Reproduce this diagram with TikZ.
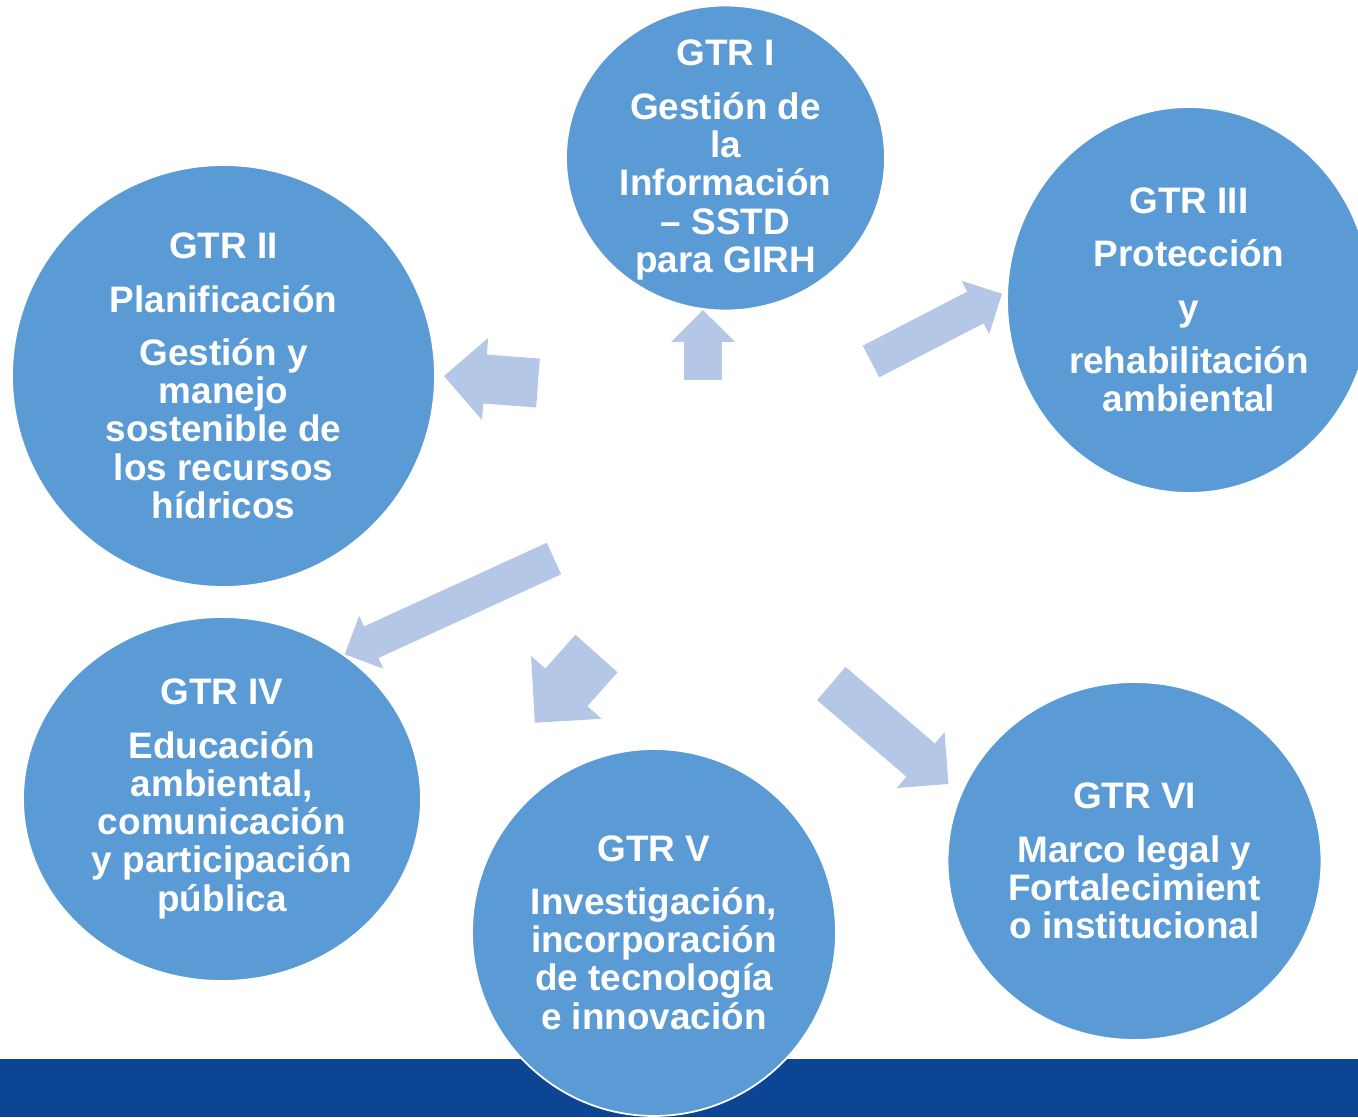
\documentclass[tikz,border=0pt]{standalone}
\usepackage{fontspec}
\setmainfont{Liberation Sans}
\usetikzlibrary{shapes.geometric,arrows.meta}
\definecolor{gtrblue}{HTML}{5B9BD5}
\definecolor{flowblue}{HTML}{B4C7E7}
\definecolor{bandblue}{HTML}{0B4594}
\tikzset{
  gtr/.style={ellipse, fill=gtrblue, draw=white, line width=1pt, inner sep=0pt},
  gtrtext/.style={text=white, align=center, inner sep=0pt,
    font=\bfseries\fontsize{21pt}{21.8pt}\selectfont},
  flow/.style={draw=flowblue, line width=#1,
    -{Triangle[width=0pt 1.67, length=0pt 0.84, line width=1.2pt 0 0]}}
}
\begin{document}
\begin{tikzpicture}[x=0.02cm, y=-0.02cm]
  \useasboundingbox (0,0) rectangle (1358,1117);
  \fill [bandblue] (0,1059) rectangle (1358,1117);

  % the six groups
  \node [gtr, minimum width=6.38cm, minimum height=6.10cm] (g1) at (725.5,158) {};
  \node [gtr, minimum width=8.46cm, minimum height=8.44cm] (g2) at (223.5,376) {};
  \node [gtr, minimum width=7.28cm, minimum height=7.72cm] (g3) at (1189,300) {};
  \node [gtr, minimum width=7.96cm, minimum height=7.28cm] (g4) at (222,799) {};
  \node [gtr, minimum width=7.28cm, minimum height=7.34cm] (g5) at (654,932.5) {};
  \node [gtr, minimum width=7.48cm, minimum height=7.16cm] (g6) at (1134.5,861) {};

  \node [gtrtext] (t1) at ([yshift=-1.2pt]g1) {GTR I\\[8.5pt]Gestión de\\la\\Información\\– SSTD\\para GIRH};
  \node [gtrtext] (t2) at (g2) {GTR II\\[8.5pt]Planificación\\[8.5pt]Gestión y\\manejo\\sostenible de\\los recursos\\hídricos};
  \node [gtrtext] (t3) at (g3) {GTR III\\[8.5pt]Protección\\[8.5pt]y\\[8.5pt]rehabilitación\\ambiental};
  \node [gtrtext] (t4) at (g4) {GTR IV\\[8.5pt]Educación\\ambiental,\\comunicación\\y participación\\pública};
  \node [gtrtext] (t5) at (g5) {GTR V\\[8.5pt]Investigación,\\incorporación\\de tecnología\\e innovación};
  \node [gtrtext] (t6) at (g6) {GTR VI\\[8.5pt]Marco legal y\\Fortalecimient\\o institucional};

  % arrows
  \coordinate (a1s) at (703,380);   \coordinate (a1e) at (703,310);
  \coordinate (a2s) at (538,383);   \coordinate (a2e) at (444,376);
  \coordinate (a3s) at (871,361.5); \coordinate (a3e) at (1002,293.7);
  \coordinate (a4s) at (554,558.5); \coordinate (a4e) at (344.8,654.3);
  \coordinate (a5s) at (596.5,653.5); \coordinate (a5e) at (534.8,722.7);
  \coordinate (a6s) at (831.3,683.5); \coordinate (a6e) at (948.5,784);
  \draw [flow=21.6pt] (a1s) -- (a1e);
  \draw [flow=27.9pt] (a2s) -- (a2e);
  \draw [flow=20.3pt] (a3s) -- (a3e);
  \draw [flow=19.7pt] (a4s) -- (a4e);
  \draw [flow=32.1pt] (a5s) -- (a5e);
  \draw [flow=24.9pt] (a6s) -- (a6e);
\end{tikzpicture}
\end{document}
